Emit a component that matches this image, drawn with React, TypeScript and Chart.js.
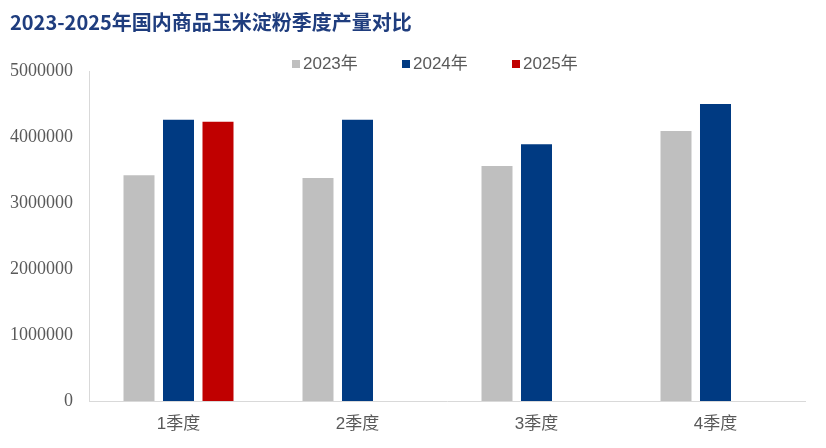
import React, { useEffect, useRef } from "react";
import { Chart, registerables } from "chart.js";

Chart.register(...registerables);

const chartTitle = "2023-2025年国内商品玉米淀粉季度产量对比";
const categories = ["1季度", "2季度", "3季度", "4季度"];
const seriesNames = ["2023年", "2024年", "2025年"];
const values2023 = [3420000, 3380000, 3560000, 4090000];
const values2024 = [4260000, 4260000, 3890000, 4500000];
const values2025: (number | null)[] = [4230000, null, null, null];
const seriesColors = ["#BFBFBF", "#003A82", "#C00000"];
const yMin = 0;
const yMax = 5000000;
const yStep = 1000000;

const overlayPlugin = {
  id: "overlay",
  afterDraw(chart: any) {
    const ctx = chart.ctx;
    ctx.save();
    // title
    ctx.fillStyle = "#1F3D7E";
    ctx.font = "bold 20px 'Noto Sans CJK SC', 'Liberation Sans', sans-serif";
    ctx.textAlign = "left";
    ctx.textBaseline = "middle";
    ctx.fillText(chartTitle, 10, 22);
    // legend
    const startX = 292;
    const spacing = 110;
    const cy = 64;
    ctx.font = "17px 'Liberation Sans', 'Noto Sans CJK SC', sans-serif";
    chart.data.datasets.forEach((ds: any, i: number) => {
      const x = startX + i * spacing;
      ctx.fillStyle = ds.backgroundColor;
      ctx.fillRect(x, cy - 4, 8, 8);
      ctx.fillStyle = "#595959";
      ctx.fillText(ds.label, x + 11, cy);
    });
    ctx.restore();
  },
};

export default function App() {
  const ref = useRef<HTMLCanvasElement>(null);
  useEffect(() => {
    if (!ref.current) return;
    const datasets = [values2023, values2024, values2025].map((vals, i) => ({
      label: seriesNames[i],
      data: vals,
      backgroundColor: seriesColors[i],
      borderWidth: 0,
      categoryPercentage: 0.662,
      barPercentage: 0.785,
    }));
    const chart = new Chart(ref.current, {
      type: "bar",
      data: { labels: categories, datasets },
      options: {
        responsive: false,
        animation: false,
        layout: { padding: { top: 71, left: 0, right: 21, bottom: 0 } },
        plugins: {
          legend: { display: false },
          title: { display: false },
          tooltip: { enabled: false },
        },
        scales: {
          x: {
            grid: { display: false, drawTicks: false },
            border: { display: true, color: "#D9D9D9", width: 1 },
            ticks: {
              color: "#595959",
              font: { family: "'Liberation Sans', 'Noto Sans CJK SC', sans-serif", size: 17 },
              padding: 13,
            },
            afterFit: (s: any) => {
              s.height = 47;
            },
          },
          y: {
            min: yMin,
            max: yMax,
            grid: { display: false, drawTicks: false },
            border: { display: true, color: "#D9D9D9", width: 1 },
            ticks: {
              stepSize: yStep,
              color: "#595959",
              font: { family: "'Liberation Serif', serif", size: 18 },
              padding: 16,
              callback: (v: any) => String(v),
            },
            afterFit: (s: any) => {
              s.width = 89;
            },
          },
        },
      },
      plugins: [overlayPlugin],
    });
    return () => chart.destroy();
  }, []);
  return (
    <div style={{ position: "absolute", left: 0, top: 0, width: 826, height: 448, background: "#fff" }}>
      <canvas ref={ref} width={826} height={448} style={{ display: "block" }} />
    </div>
  );
}
